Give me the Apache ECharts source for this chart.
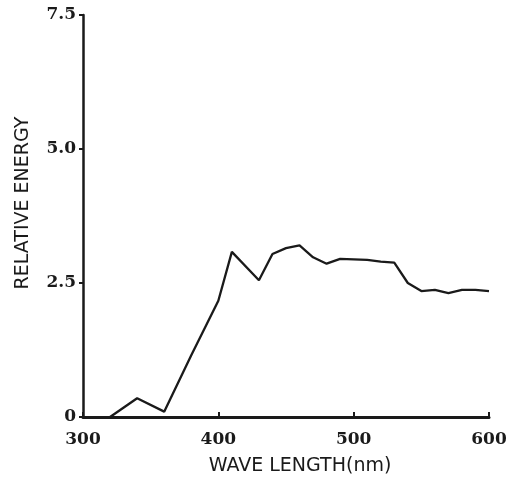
<!DOCTYPE html>
<html>
<head>
<meta charset="utf-8">
<script src="https://cdn.jsdelivr.net/npm/echarts@6/dist/echarts.min.js"></script>
<style>html,body{margin:0;padding:0;background:#fff}#c{width:518px;height:481px}</style>
</head>
<body>
<div id="c"></div>
<script>
const wavelengths = [320, 340, 360, 380, 400, 410, 430, 440, 450, 460, 470, 480, 490, 500, 510, 520, 530, 540, 550, 560, 570, 580, 590, 600];
const energy = [0.0, 0.35, 0.1, 1.15, 2.17, 3.08, 2.55, 3.04, 3.15, 3.2, 2.98, 2.86, 2.95, 2.94, 2.93, 2.9, 2.88, 2.5, 2.35, 2.37, 2.31, 2.37, 2.37, 2.35];
const xTicks = [300, 400, 500, 600];
const yTicks = [0, 2.5, 5.0, 7.5];
const xName = 'WAVE LENGTH(nm)';
const yName = 'RELATIVE ENERGY';

const chart = echarts.init(document.getElementById('c'), null, {renderer: 'canvas'});
const ink = '#1a1a1a';
chart.setOption({
  animation: false,
  backgroundColor: '#fff',
  grid: {left: 83, right: 29, top: 15, bottom: 63},
  xAxis: {
    type: 'value', min: xTicks[0], max: xTicks[xTicks.length - 1], interval: 100,
    name: xName, nameLocation: 'middle', nameGap: 40,
    nameTextStyle: {fontFamily: 'DejaVu Sans', fontSize: 19, color: ink, padding: [0, 0, 0, 28]},
    axisLine: {lineStyle: {color: ink, width: 3}},
    axisTick: {inside: true, length: 5, lineStyle: {color: ink, width: 2}},
    axisLabel: {fontFamily: 'DejaVu Serif', fontWeight: 'bold', fontSize: 17, color: ink, margin: 14},
    splitLine: {show: false}
  },
  yAxis: {
    type: 'value', min: yTicks[0], max: yTicks[yTicks.length - 1], interval: 2.5,
    name: yName, nameLocation: 'middle', nameGap: 50, nameRotate: 90,
    nameTextStyle: {fontFamily: 'DejaVu Sans', fontSize: 19, color: ink, padding: [0, 0, 0, 26]},
    axisLine: {lineStyle: {color: ink, width: 2.5}},
    axisTick: {inside: false, length: 4, lineStyle: {color: ink, width: 2}},
    axisLabel: {fontFamily: 'DejaVu Serif', fontWeight: 'bold', fontSize: 17, color: ink, margin: 7,
      formatter: v => v === 0 ? '0' : v.toFixed(1)},
    splitLine: {show: false}
  },
  series: [{
    type: 'line',
    data: wavelengths.map((w, i) => [w, energy[i]]),
    showSymbol: false,
    lineStyle: {color: ink, width: 2.3},
    z: 3
  }]
});
</script>
</body>
</html>
